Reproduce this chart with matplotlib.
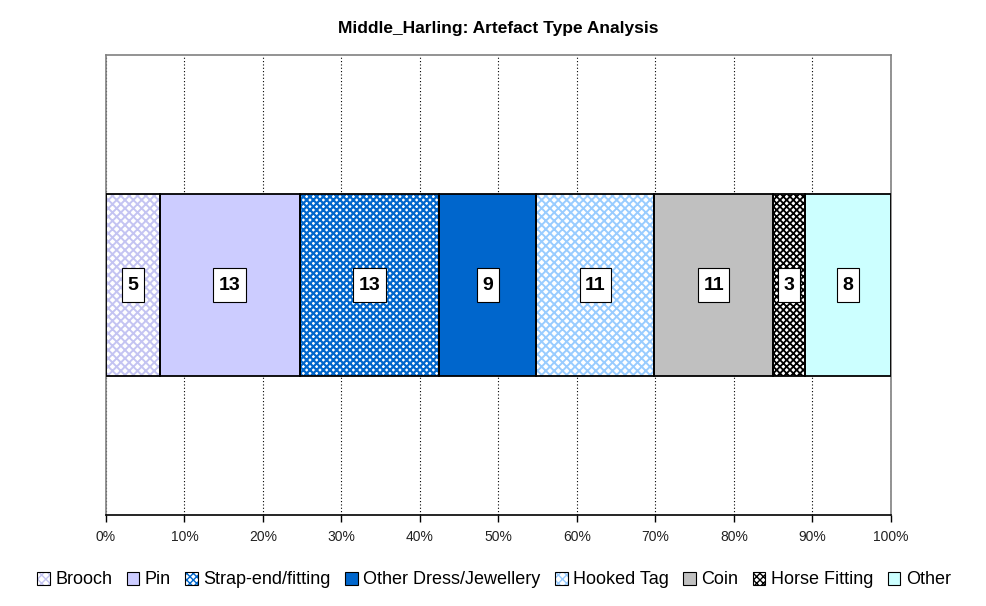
import matplotlib
matplotlib.use("Agg")
import matplotlib.pyplot as plt
from matplotlib.patches import Patch
from matplotlib.path import Path
from matplotlib.legend_handler import HandlerTuple
import numpy as np

plt.rcParams['font.family'] = ['Liberation Sans', 'DejaVu Sans']

title = "Middle_Harling: Artefact Type Analysis"
categories = ["Brooch", "Pin", "Strap-end/fitting", "Other Dress/Jewellery",
              "Hooked Tag", "Coin", "Horse Fitting", "Other"]
counts = [5, 13, 13, 9, 11, 11, 3, 8]
x_ticks = [0, 10, 20, 30, 40, 50, 60, 70, 80, 90, 100]

# style: (facecolor, hatch, hatchcolor, hatch linewidth)
styles = [
    ("white", "xxxx", "#C4C4F2", 1.4),
    ("#CCCCFF", None, None, None),
    ("white", "xxxxx", "#0066CC", 1.6),
    ("#0066CC", None, None, None),
    ("white", "xxxx", "#99CCFF", 1.4),
    ("#C0C0C0", None, None, None),
    ("white", "xxxxx", "#000000", 1.3),
    ("#CCFFFF", None, None, None),
]


def tall_box(x0, y0, width, height, mutation_size):
    px = 0.28 * mutation_size
    py = 0.45 * mutation_size
    x0, y0 = x0 - px, y0 - py
    x1, y1 = x0 + width + 2 * px, y0 + height + 2 * py
    return Path([(x0, y0), (x1, y0), (x1, y1), (x0, y1), (x0, y0)], closed=True)


W, H = 987, 606
fig = plt.figure(figsize=(W / 100, H / 100), dpi=100)
ax = fig.add_axes([106 / W, 1 - 515 / H, (891 - 106) / W, (515 - 55) / H])

total = sum(counts)
pct = [c / total * 100 for c in counts]
left = 0.0
handles = []
for i, (cat, p, c) in enumerate(zip(categories, pct, counts)):
    fc, hatch, hc, hlw = styles[i]
    if hatch:
        with plt.rc_context({'hatch.linewidth': hlw}):
            ax.barh(0, p, left=left, height=1.0, color=fc, edgecolor=hc,
                    hatch=hatch, linewidth=0, zorder=2)
            hp = Patch(facecolor=fc, edgecolor=hc, hatch=hatch, linewidth=0)
        op = Patch(facecolor='none', edgecolor='black', linewidth=0.8)
        handles.append((hp, op))
    else:
        ax.barh(0, p, left=left, height=1.0, color=fc, linewidth=0, zorder=2)
        handles.append(Patch(facecolor=fc, edgecolor='black', linewidth=0.8))
    ax.barh(0, p, left=left, height=1.0, facecolor='none', edgecolor='black',
            linewidth=1.3, zorder=3)
    ax.text(left + p / 2, 0, str(c), ha='center', va='center',
            fontsize=14, fontweight='bold', zorder=4,
            bbox=dict(boxstyle=tall_box, facecolor='white',
                      edgecolor='black', linewidth=0.8))
    left += p

ax.set_xlim(0, 100)
ax.set_ylim(-1.257, 1.257)
ax.set_yticks([])
ax.set_xticks(x_ticks)
ax.set_xticklabels([f"{t}%" for t in x_ticks], fontsize=10, color='#222222')
ax.tick_params(axis='x', direction='out', length=5, width=1, pad=6)
ax.xaxis.grid(True, color='black', linestyle=(0, (1, 2)), linewidth=0.8, zorder=1)
ax.set_axisbelow(True)
for s in ['left', 'top', 'right']:
    ax.spines[s].set_color('#808080')
    ax.spines[s].set_linewidth(1.2)
ax.spines['bottom'].set_color('black')
ax.spines['bottom'].set_linewidth(1.2)

fig.text((106 + 891) / 2 / W, 1 - 28 / H, title, ha='center', va='center',
         fontsize=12.5, fontweight='bold')

leg = fig.legend(handles, categories, loc='center', bbox_to_anchor=(494 / W, 1 - 580 / H),
                 ncol=8, frameon=False, fontsize=13, handlelength=0.7, handleheight=0.7,
                 handletextpad=0.3, columnspacing=0.8, borderaxespad=0,
                 handler_map={tuple: HandlerTuple(ndivide=1, pad=0)})

fig.savefig("out.png", dpi=100, facecolor='white')
